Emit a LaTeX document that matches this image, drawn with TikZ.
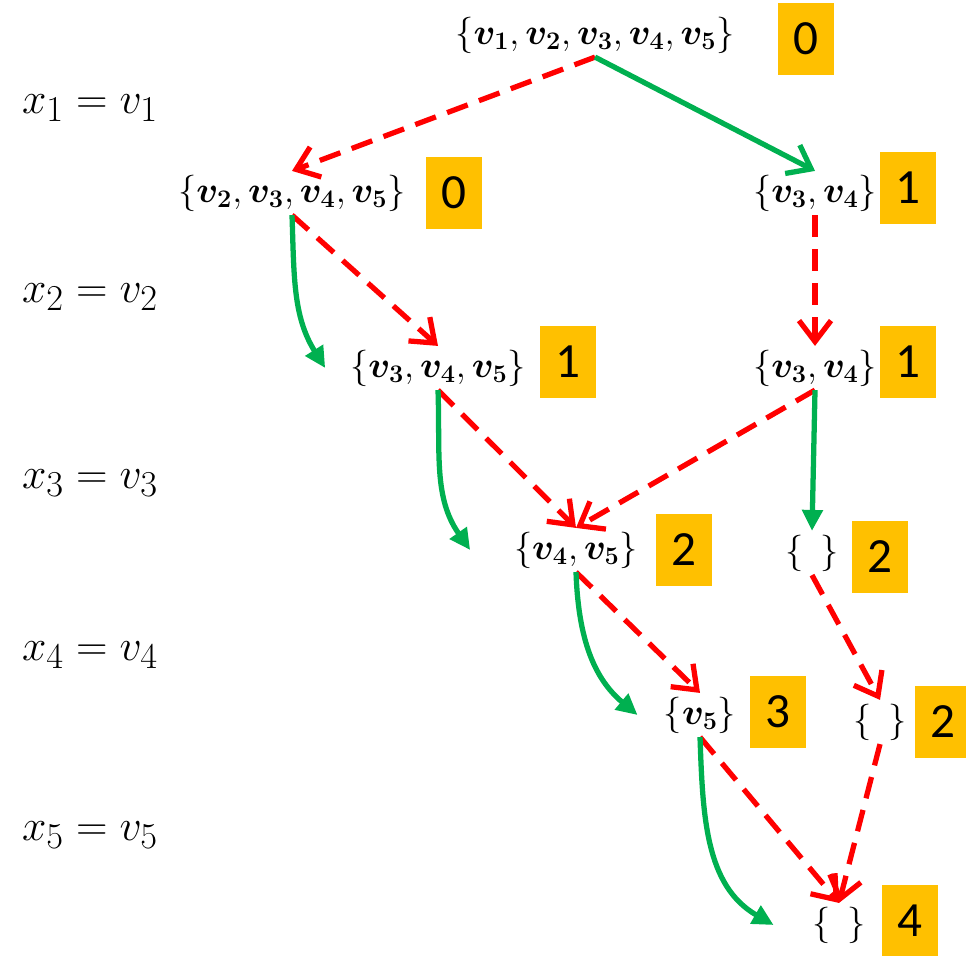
\documentclass[tikz,border=0pt]{standalone}
\usepackage{amsmath,amssymb}
\usepackage{fontspec}
\newfontfamily\cntfont{Carlito}
\usetikzlibrary{arrows.meta, positioning}
\definecolor{gold}{HTML}{FFC000}
\definecolor{grn}{HTML}{00B050}
\newcommand{\bv}[1]{\boldsymbol{v_{#1}}}

\begin{document}
\begin{tikzpicture}[st/.style={inner sep=2pt, font=\fontsize{21}{25}\selectfont},
  bx/.style={fill=gold, minimum width=1.12cm, minimum height=1.44cm, inner sep=0pt, font=\cntfont\fontsize{28}{30}\selectfont},
  lbl/.style={font=\fontsize{28}{32}\selectfont},
  excl/.style={draw=red, line width=3pt, dash pattern=on 0.44cm off 0.24cm, -{Straight Barb[length=0.42cm,width=0.64cm]}},
  incl/.style={draw=grn, line width=3pt, -{Triangle[length=0.42cm,width=0.4cm]}}]
\useasboundingbox (0,0) rectangle (19.32,-19.1);

\node[st] (S0) at (11.9,-0.7) {$\{\bv1,\bv2,\bv3,\bv4,\bv5\}$};
\node[st] (S1) at (5.84,-3.86) {$\{\bv2,\bv3,\bv4,\bv5\}$};
\node[st] (S2) at (16.3,-3.86) {$\{\bv3,\bv4\}$};
\node[st] (S3) at (8.76,-7.36) {$\{\bv3,\bv4,\bv5\}$};
\node[st] (S4) at (16.3,-7.36) {$\{\bv3,\bv4\}$};
\node[st] (S5) at (11.52,-11.0) {$\{\bv4,\bv5\}$};
\node[st] (S6) at (16.24,-11.06) {$\{\hspace{0.45em}\}$};
\node[st] (S7) at (14.0,-14.3) {$\{\bv5\}$};
\node[st] (S8) at (17.6,-14.44) {$\{\hspace{0.45em}\}$};
\node[st] (S9) at (16.78,-18.5) {$\{\hspace{0.45em}\}$};

\node[bx] (c0) at (16.12,-0.78) {0};
\node[bx] (c1) at (9.08,-3.86) {0};
\node[bx] (c2) at (18.16,-3.76) {1};
\node[bx] (c3) at (11.36,-7.24) {1};
\node[bx] (c4) at (18.16,-7.24) {1};
\node[bx] (c5) at (13.68,-11.0) {2};
\node[bx] (c6) at (17.6,-11.14) {2};
\node[bx] (c7) at (15.56,-14.24) {3};
\node[bx] (c8) at (18.86,-14.44) {2};
\node[bx] (c9) at (18.2,-18.42) {4};

\foreach \i/\y in {1/-2.16, 2/-5.94, 3/-9.66, 4/-13.1, 5/-16.7}
  \node[lbl] (x\i) at (1.8,\y) {$x_{\i} = v_{\i}$};

\draw[excl] (S0.south) -- (S1.north);
\draw[incl, -{Straight Barb[length=0.42cm,width=0.64cm]}] (S0.south) -- (S2.north);
\draw[excl] (S1.south) -- (S3.north);
\draw[incl] (S1.south) to[out=-88, in=122] ([xshift=-12pt]S3.west);
\draw[excl] (S2.south) -- (S4.north);
\draw[excl] (S3.south) -- (S5.north);
\draw[incl] (S3.south) to[out=-88, in=125] ([xshift=-0.8cm]S5.west);
\draw[excl] (S4.south) -- (S5.north);
\draw[incl] (S4.south) -- (S6.north);
\draw[excl] (S5.south) -- (S7.north);
\draw[incl] (S5.south) to[out=-88, in=140] ([xshift=-0.45cm]S7.west);
\draw[excl] (S6.south) -- (S8.north);
\draw[excl] (S7.south) -- (S9.north);
\draw[incl] (S7.south) to[out=-88, in=150] ([xshift=-0.7cm]S9.west);
\draw[excl] (S8.south) -- (S9.north);
\end{tikzpicture}
\end{document}
